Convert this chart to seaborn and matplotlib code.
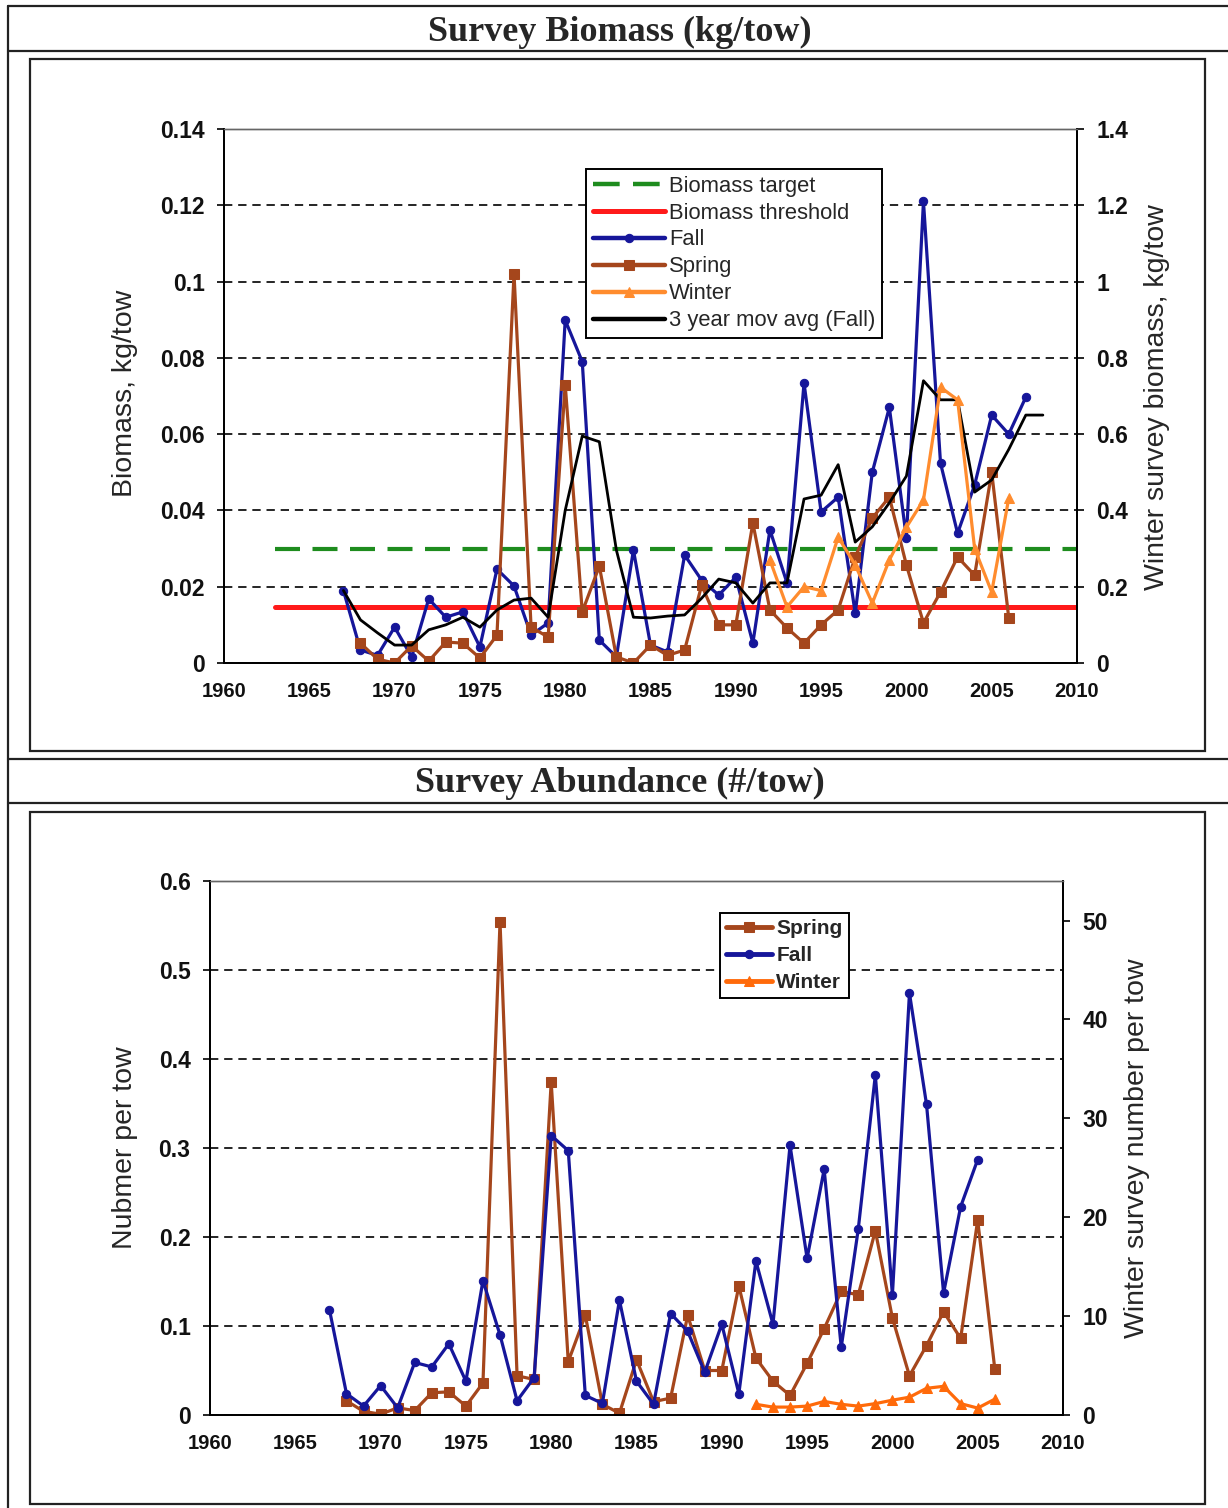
import numpy as np
import pandas as pd
import matplotlib
matplotlib.use("Agg")
import matplotlib.pyplot as plt
from matplotlib.lines import Line2D
from matplotlib.patches import Rectangle
from matplotlib.ticker import FixedLocator, FuncFormatter
import seaborn as sns

# ---------------- data ----------------
# Top panel: Survey Biomass (kg/tow)
fall_bio_years = list(range(1967, 2008))
fall_bio = [0.019, 0.0034, 0.002, 0.0094, 0.0016, 0.0168, 0.012, 0.0134, 0.0042, 0.0246,
            0.0202, 0.0073, 0.0105, 0.0899, 0.079, 0.006, 0.0016, 0.0296, 0.0047, 0.0029,
            0.0283, 0.0217, 0.0178, 0.0225, 0.0052, 0.0349, 0.021, 0.0734, 0.0396, 0.0435,
            0.013, 0.050, 0.067, 0.0328, 0.121, 0.0524, 0.034, 0.0467, 0.065, 0.060, 0.0697]
spring_bio_years = list(range(1968, 2007))
spring_bio = [0.0052, 0.001, 0.0, 0.0045, 0.0005, 0.0055, 0.0052, 0.0013, 0.0073, 0.102,
              0.0094, 0.0068, 0.073, 0.0134, 0.0254, 0.0016, 0.0, 0.0047, 0.002, 0.0034,
              0.0204, 0.01, 0.01, 0.0367, 0.0139, 0.0092, 0.0052, 0.01, 0.0139, 0.0278,
              0.038, 0.0435, 0.0257, 0.0105, 0.0186, 0.0278, 0.023, 0.05, 0.0118]
winter_bio_years = list(range(1992, 2007))
winter_bio = [0.27, 0.147, 0.2, 0.19, 0.33, 0.257, 0.157, 0.27, 0.356, 0.427,
              0.723, 0.69, 0.30, 0.186, 0.432]
movavg_years = list(range(1967, 2009))
movavg_fall = [0.019, 0.0113, 0.0079, 0.0047, 0.0047, 0.0087, 0.010, 0.012, 0.0094, 0.0139,
               0.0165, 0.017, 0.012, 0.040, 0.0595, 0.058, 0.0296, 0.012, 0.0118, 0.0123,
               0.0126, 0.017, 0.022, 0.021, 0.0157, 0.021, 0.021, 0.043, 0.044, 0.052,
               0.0317, 0.0357, 0.042, 0.049, 0.074, 0.069, 0.069, 0.0448, 0.048, 0.056,
               0.065, 0.065]
ref_years = [1963, 2010]
biomass_target = [0.030, 0.030]
biomass_threshold = [0.0147, 0.0147]

# Bottom panel: Survey Abundance (#/tow)
fall_abd_years = list(range(1967, 2006))
fall_abd = [0.1185, 0.024, 0.010, 0.033, 0.008, 0.059, 0.054, 0.080, 0.038, 0.151,
            0.090, 0.016, 0.042, 0.314, 0.297, 0.022, 0.013, 0.129, 0.038, 0.012,
            0.114, 0.094, 0.048, 0.102, 0.024, 0.173, 0.102, 0.303, 0.176, 0.276,
            0.076, 0.209, 0.382, 0.135, 0.474, 0.349, 0.137, 0.234, 0.287]
spring_abd_years = list(range(1968, 2007))
spring_abd = [0.016, 0.004, 0.001, 0.008, 0.005, 0.025, 0.026, 0.010, 0.036, 0.554,
              0.044, 0.040, 0.374, 0.060, 0.112, 0.012, 0.002, 0.062, 0.015, 0.019,
              0.112, 0.050, 0.050, 0.145, 0.064, 0.038, 0.022, 0.058, 0.097, 0.139,
              0.135, 0.207, 0.109, 0.044, 0.078, 0.116, 0.086, 0.219, 0.052]
winter_abd_years = list(range(1992, 2007))
winter_abd = [1.08, 0.8, 0.8, 0.9, 1.37, 1.08, 0.9, 1.15, 1.5, 1.8, 2.7, 2.9, 1.15, 0.7, 1.6]

x_ticks = [1960, 1965, 1970, 1975, 1980, 1985, 1990, 1995, 2000, 2005, 2010]
top_left_ticks = [0, 0.02, 0.04, 0.06, 0.08, 0.1, 0.12, 0.14]
top_right_ticks = [0, 0.2, 0.4, 0.6, 0.8, 1, 1.2, 1.4]
bot_left_ticks = [0, 0.1, 0.2, 0.3, 0.4, 0.5, 0.6]
bot_right_ticks = [0, 10, 20, 30, 40, 50]

# ---------------- style ----------------
sns.set_theme(style="white")
plt.rcParams['font.family'] = ['Liberation Sans', 'DejaVu Sans']
plt.rcParams['axes.linewidth'] = 1.3

C_FALL = "#16169a"
C_SPRING = "#a5461c"
C_WINTER_TOP = "#ff8c2e"
C_WINTER_BOT = "#ff6a0a"
C_GREEN = "#1e8c1e"
C_RED = "#ff1a1a"
LW = 2.3

W, H = 1228, 1508
fig = plt.figure(figsize=(W / 100, H / 100), dpi=100)
fig.patch.set_facecolor("white")


def fx(px):
    return px / W


def fy(py):
    return 1 - py / H


# frame lines (document table look)
for y in [6, 51, 759, 803]:
    fig.add_artist(Line2D([fx(8), 1.0], [fy(y), fy(y)], color="#222222", lw=1.6))
fig.add_artist(Line2D([fx(8), fx(8)], [fy(6), 0.0], color="#222222", lw=1.6))
for (x0, y0, x1, y1) in [(30, 59, 1205, 751), (30, 812, 1205, 1504)]:
    fig.add_artist(Rectangle((fx(x0), fy(y1)), fx(x1) - fx(x0), fy(y0) - fy(y1),
                             fill=False, edgecolor="#222222", lw=1.6))

fig.text(fx(620), fy(32), "Survey Biomass (kg/tow)", ha="center", va="center",
         fontsize=26, fontweight="bold", family=["Liberation Serif", "DejaVu Serif"])
fig.text(fx(620), fy(783), "Survey Abundance (#/tow)", ha="center", va="center",
         fontsize=26, fontweight="bold", family=["Liberation Serif", "DejaVu Serif"])

XT_SIZE = 14.5
YT_SIZE = 16.5
grid_style = dict(color="black", linestyle=(0, (5, 3.5)), linewidth=1.2)


def style_axes(ax, twin, xt, ylt, yrt, ylim_l, ylim_r, lfmt, rfmt):
    ax.set_xlim(1960, 2010)
    ax.set_ylim(*ylim_l)
    twin.set_ylim(*ylim_r)
    ax.xaxis.set_major_locator(FixedLocator(xt))
    ax.yaxis.set_major_locator(FixedLocator(ylt))
    twin.yaxis.set_major_locator(FixedLocator(yrt))
    ax.yaxis.set_major_formatter(FuncFormatter(lfmt))
    twin.yaxis.set_major_formatter(FuncFormatter(rfmt))
    ax.tick_params(axis="x", direction="out", length=5, width=1.2, color="black",
                   pad=9, labelcolor="#111111", labelsize=XT_SIZE)
    ax.tick_params(axis="y", direction="out", length=5, width=1.2, color="black",
                   pad=9, labelcolor="#111111", labelsize=YT_SIZE)
    twin.tick_params(axis="y", direction="out", length=5, width=1.2, color="black",
                     pad=9, labelcolor="#111111", labelsize=YT_SIZE)
    for lab in ax.get_xticklabels() + ax.get_yticklabels() + twin.get_yticklabels():
        lab.set_fontweight("bold")
    ax.yaxis.grid(True, **grid_style)
    ax.xaxis.grid(False)
    for a in (ax, twin):
        for s in ["left", "right", "bottom"]:
            a.spines[s].set_color("black")
            a.spines[s].set_linewidth(1.3)
        a.spines["top"].set_color("#666666")
        a.spines["top"].set_linewidth(1.0)
        a.set_xlabel("")
        a.set_ylabel("")
    ax.set_facecolor("none")


def fmt_plain(v, pos):
    s = ("%.2f" % v).rstrip("0").rstrip(".")
    return s if s else "0"


def fmt_int(v, pos):
    return "%d" % v


# ---------------- top panel ----------------
ax1 = fig.add_axes([fx(224), fy(663), fx(1077) - fx(224), fy(129) - fy(663)])
ax1r = ax1.twinx()

sns.lineplot(x=ref_years, y=biomass_target, ax=ax1, color=C_GREEN, lw=3.0,
             linestyle=(0, (6, 3)), label="Biomass target", legend=False)
sns.lineplot(x=ref_years, y=biomass_threshold, ax=ax1, color=C_RED, lw=3.6,
             label="Biomass threshold", legend=False)
sns.lineplot(x=fall_bio_years, y=fall_bio, ax=ax1, color=C_FALL, lw=LW, marker="o",
             markersize=6, markeredgecolor=C_FALL, label="Fall", legend=False)
sns.lineplot(x=spring_bio_years, y=spring_bio, ax=ax1, color=C_SPRING, lw=LW, marker="s",
             markersize=6.5, markeredgecolor=C_SPRING, label="Spring", legend=False)
sns.lineplot(x=movavg_years, y=movavg_fall, ax=ax1, color="black", lw=2.0,
             label="3 year mov avg (Fall)", legend=False)
sns.lineplot(x=winter_bio_years, y=winter_bio, ax=ax1r, color=C_WINTER_TOP, lw=LW,
             marker="^", markersize=6.5, markeredgecolor=C_WINTER_TOP, label="Winter",
             legend=False)

style_axes(ax1, ax1r, x_ticks, top_left_ticks, top_right_ticks, (0, 0.14), (0, 1.4),
           fmt_plain, fmt_plain)

h1, l1 = ax1.get_legend_handles_labels()
h2, l2 = ax1r.get_legend_handles_labels()
hd = dict(zip(l1 + l2, h1 + h2))
order = ["Biomass target", "Biomass threshold", "Fall", "Spring", "Winter",
         "3 year mov avg (Fall)"]
leg1 = ax1r.legend([hd[k] for k in order], order, loc="upper left",
                   bbox_to_anchor=(fx(586), fy(169)), bbox_transform=fig.transFigure,
                   frameon=True, fancybox=False, framealpha=1, edgecolor="black",
                   fontsize=15.8, handlelength=3.3, handletextpad=0.2, labelspacing=0.27,
                   borderpad=0.3, borderaxespad=0)
leg1.get_frame().set_linewidth(1.4)
for ln in leg1.get_lines():
    ln.set_linewidth(max(ln.get_linewidth(), 3.2))

fig.text(fx(125), fy(393), "Biomass, kg/tow", rotation=90, ha="center", va="center",
         fontsize=20.5)
fig.text(fx(1157), fy(397), "Winter survey biomass, kg/tow", rotation=90, ha="center",
         va="center", fontsize=20.5)

# ---------------- bottom panel ----------------
ax2 = fig.add_axes([fx(210), fy(1415), fx(1063) - fx(210), fy(881) - fy(1415)])
ax2r = ax2.twinx()

sns.lineplot(x=spring_abd_years, y=spring_abd, ax=ax2, color=C_SPRING, lw=LW, marker="s",
             markersize=6.5, markeredgecolor=C_SPRING, label="Spring", legend=False)
sns.lineplot(x=fall_abd_years, y=fall_abd, ax=ax2, color=C_FALL, lw=LW, marker="o",
             markersize=6, markeredgecolor=C_FALL, label="Fall", legend=False)
sns.lineplot(x=winter_abd_years, y=winter_abd, ax=ax2r, color=C_WINTER_BOT, lw=LW,
             marker="^", markersize=6.5, markeredgecolor=C_WINTER_BOT, label="Winter",
             legend=False)

style_axes(ax2, ax2r, x_ticks, bot_left_ticks, bot_right_ticks, (0, 0.6), (0, 54),
           fmt_plain, fmt_int)

h1, l1 = ax2.get_legend_handles_labels()
h2, l2 = ax2r.get_legend_handles_labels()
leg2 = ax2r.legend(h1 + h2, l1 + l2, loc="upper left",
                   bbox_to_anchor=(fx(720), fy(913)), bbox_transform=fig.transFigure,
                   frameon=True, fancybox=False, framealpha=1, edgecolor="black",
                   prop=dict(size=15, weight="bold"), handlelength=2.2,
                   handletextpad=0.2, labelspacing=0.38, borderpad=0.3, borderaxespad=0)
leg2.get_frame().set_linewidth(1.4)
for ln in leg2.get_lines():
    ln.set_linewidth(3.5)

fig.text(fx(125), fy(1148), "Nubmer per tow", rotation=90, ha="center", va="center",
         fontsize=20.5)
fig.text(fx(1137), fy(1148), "Winter survey number per tow", rotation=90, ha="center",
         va="center", fontsize=20.5)

fig.savefig("out.png", dpi=100, facecolor="white")
